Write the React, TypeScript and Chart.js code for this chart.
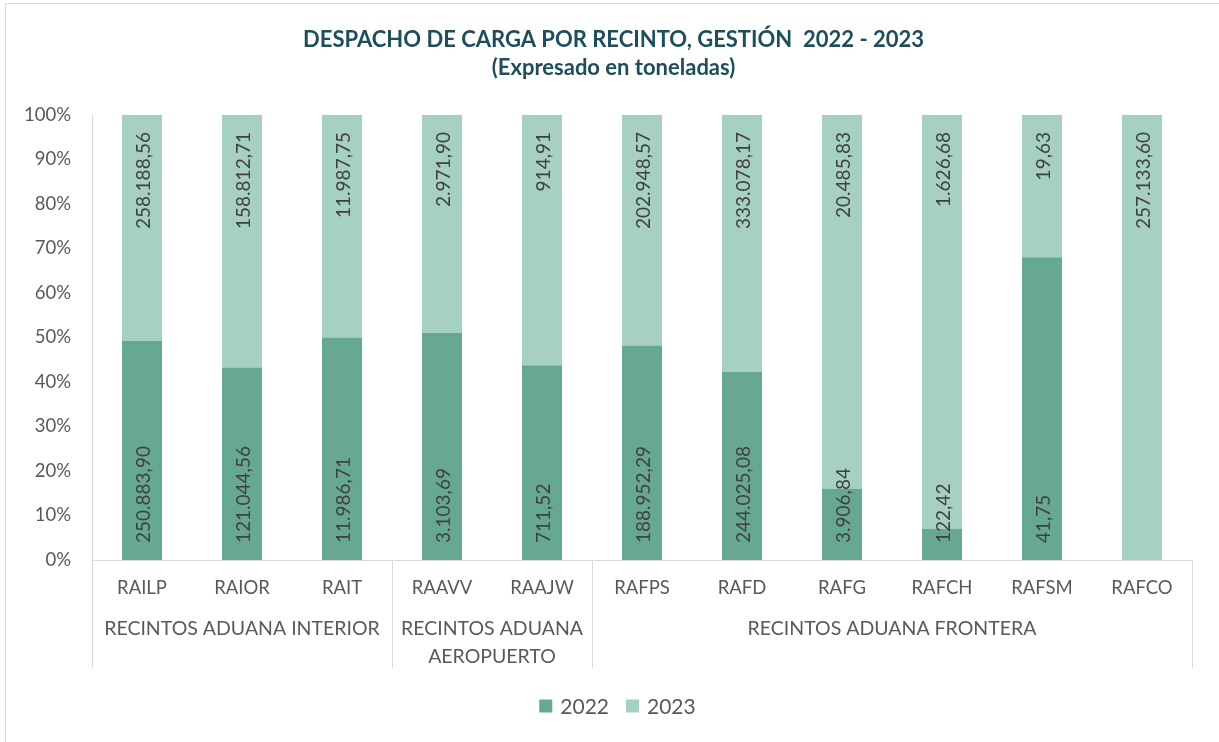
import React, { useEffect, useRef } from "react";
import { Chart, registerables } from "chart.js";

Chart.register(...registerables);

const categories = ["RAILP", "RAIOR", "RAIT", "RAAVV", "RAAJW", "RAFPS", "RAFD", "RAFG", "RAFCH", "RAFSM", "RAFCO"];
const values2022 = [250883.9, 121044.56, 11986.71, 3103.69, 711.52, 188952.29, 244025.08, 3906.84, 122.42, 41.75, 0];
const values2023 = [258188.56, 158812.71, 11987.75, 2971.9, 914.91, 202948.57, 333078.17, 20485.83, 1626.68, 19.63, 257133.6];
const groupNames = [["RECINTOS ADUANA INTERIOR"], ["RECINTOS ADUANA", "AEROPUERTO"], ["RECINTOS ADUANA FRONTERA"]];
const groupSizes = [3, 2, 6];
const seriesNames = ["2022", "2023"];
const titleLines = ["DESPACHO DE CARGA POR RECINTO, GESTIÓN  2022 - 2023", "(Expresado en toneladas)"];

const COLOR_2022 = "#67A894";
const COLOR_2023 = "#A5D0C2";
const AXIS_GRAY = "#D9D9D9";
const TEXT_GRAY = "#595959";
const TITLE_COLOR = "#1E4D5C";
const FONT = "Lato";

function fmt(v: number): string {
  const [i, d] = v.toFixed(2).split(".");
  return i.replace(/\B(?=(\d{3})+(?!\d))/g, ".") + "," + d;
}

const totals = categories.map((_, i) => values2022[i] + values2023[i]);
const pct2022 = values2022.map((v, i) => (v / totals[i]) * 100);
const pct2023 = values2023.map((v, i) => (v / totals[i]) * 100);
const rawValues = [values2022, values2023];

const framePlugin = {
  id: "frame",
  beforeDraw(chart: any) {
    const ctx = chart.ctx;
    ctx.save();
    ctx.fillStyle = "#ffffff";
    ctx.fillRect(0, 0, chart.width, chart.height);
    ctx.strokeStyle = AXIS_GRAY;
    ctx.lineWidth = 1;
    ctx.strokeRect(5.5, 3.5, chart.width + 20, chart.height + 20);
    ctx.restore();
  },
};

// Title and legend, centred on the chart frame (which starts at x≈6)
const titleLegendPlugin = {
  id: "titleLegend",
  afterDraw(chart: any) {
    const ctx = chart.ctx;
    const cx = chart.width / 2 + 4;
    ctx.save();
    ctx.fillStyle = TITLE_COLOR;
    ctx.font = `bold 22px ${FONT}`;
    ctx.textAlign = "center";
    ctx.textBaseline = "middle";
    titleLines.forEach((line, i) => ctx.fillText(line, cx, 40 + i * 28));

    ctx.font = `21px ${FONT}`;
    ctx.textAlign = "left";
    const box = 13;
    const gap = 8;
    const spacing = 17;
    const widths = seriesNames.map((s) => box + gap + ctx.measureText(s).width);
    const total = widths.reduce((a, b) => a + b, 0) + spacing * (seriesNames.length - 1);
    let x = cx + 4 - total / 2;
    const ly = chart.chartArea.bottom + 146;
    const colors = [COLOR_2022, COLOR_2023];
    seriesNames.forEach((s, i) => {
      ctx.fillStyle = colors[i];
      ctx.fillRect(x, ly - box / 2, box, box);
      ctx.fillStyle = TEXT_GRAY;
      ctx.fillText(s, x + box + gap, ly + 1);
      x += widths[i] + spacing;
    });
    ctx.restore();
  },
};

const dataLabelPlugin = {
  id: "dataLabels",
  afterDatasetsDraw(chart: any) {
    const ctx = chart.ctx;
    ctx.save();
    ctx.font = `19px ${FONT}`;
    ctx.fillStyle = "#404040";
    ctx.textBaseline = "middle";
    chart.data.datasets.forEach((_: any, di: number) => {
      const meta = chart.getDatasetMeta(di);
      meta.data.forEach((bar: any, i: number) => {
        const v = rawValues[di][i];
        if (!v) return;
        const text = fmt(v);
        ctx.save();
        if (di === 0) {
          ctx.translate(bar.x + 2, chart.chartArea.bottom - 17);
          ctx.rotate(-Math.PI / 2);
          ctx.textAlign = "left";
        } else {
          ctx.translate(bar.x + 2, chart.chartArea.top + 17);
          ctx.rotate(-Math.PI / 2);
          ctx.textAlign = "right";
        }
        ctx.fillText(text, 0, 0);
        ctx.restore();
      });
    });
    ctx.restore();
  },
};

const groupAxisPlugin = {
  id: "groupAxis",
  afterDraw(chart: any) {
    const ctx = chart.ctx;
    const xs = chart.scales.x;
    const area = chart.chartArea;
    const top = area.bottom;
    const bottom = area.bottom + 108;
    const boundary = (idx: number) => {
      if (idx <= 0) return area.left;
      if (idx >= categories.length) return area.right;
      return (xs.getPixelForValue(idx - 1) + xs.getPixelForValue(idx)) / 2;
    };
    ctx.save();
    ctx.strokeStyle = AXIS_GRAY;
    ctx.lineWidth = 1;
    let start = 0;
    const bounds = [0];
    groupSizes.forEach((s) => {
      start += s;
      bounds.push(start);
    });
    bounds.forEach((b) => {
      const x = Math.round(boundary(b)) + 0.5;
      ctx.beginPath();
      ctx.moveTo(x, top);
      ctx.lineTo(x, bottom);
      ctx.stroke();
    });
    ctx.fillStyle = TEXT_GRAY;
    ctx.font = `19.5px ${FONT}`;
    ctx.textAlign = "center";
    ctx.textBaseline = "middle";
    groupNames.forEach((lines, gi) => {
      const cx = (boundary(bounds[gi]) + boundary(bounds[gi + 1])) / 2;
      lines.forEach((line, li) => {
        ctx.fillText(line, cx, area.bottom + 69 + li * 28);
      });
    });
    ctx.restore();
  },
};

export default function App() {
  const canvasRef = useRef<HTMLCanvasElement | null>(null);

  useEffect(() => {
    const canvas = canvasRef.current;
    if (!canvas) return;
    const chart = new Chart(canvas, {
      type: "bar",
      data: {
        labels: categories,
        datasets: [
          {
            label: seriesNames[0],
            data: pct2022,
            backgroundColor: COLOR_2022,
            borderWidth: 0,
            barPercentage: 0.8,
            categoryPercentage: 0.5,
          },
          {
            label: seriesNames[1],
            data: pct2023,
            backgroundColor: COLOR_2023,
            borderWidth: 0,
            barPercentage: 0.8,
            categoryPercentage: 0.5,
          },
        ],
      },
      options: {
        responsive: false,
        animation: false,
        layout: { padding: { left: 0, right: 27, top: 115, bottom: 63 } },
        plugins: {
          title: { display: false },
          legend: { display: false },
          tooltip: { enabled: false },
        },
        scales: {
          x: {
            stacked: true,
            grid: { display: false, drawTicks: false },
            border: { display: true, color: AXIS_GRAY, width: 1 },
            ticks: { color: TEXT_GRAY, font: { family: FONT, size: 18.5 }, padding: 17, maxRotation: 0, autoSkip: false },
            afterFit: (scale: any) => {
              scale.height = 119;
            },
          },
          y: {
            stacked: true,
            min: 0,
            max: 100,
            grid: { display: false, drawTicks: false },
            border: { display: true, color: AXIS_GRAY, width: 1 },
            ticks: {
              stepSize: 10,
              color: TEXT_GRAY,
              font: { family: FONT, size: 18.5 },
              padding: 21,
              callback: (v: any) => `${v}%`,
            },
            afterFit: (scale: any) => {
              scale.width = 92;
            },
          },
        },
      },
      plugins: [framePlugin, dataLabelPlugin, groupAxisPlugin, titleLegendPlugin],
    });
    return () => chart.destroy();
  }, []);

  return (
    <div style={{ position: "absolute", left: 0, top: 0, width: 1219, height: 742, overflow: "hidden", background: "#fff" }}>
      <canvas ref={canvasRef} width={1219} height={742} style={{ display: "block" }} />
    </div>
  );
}
